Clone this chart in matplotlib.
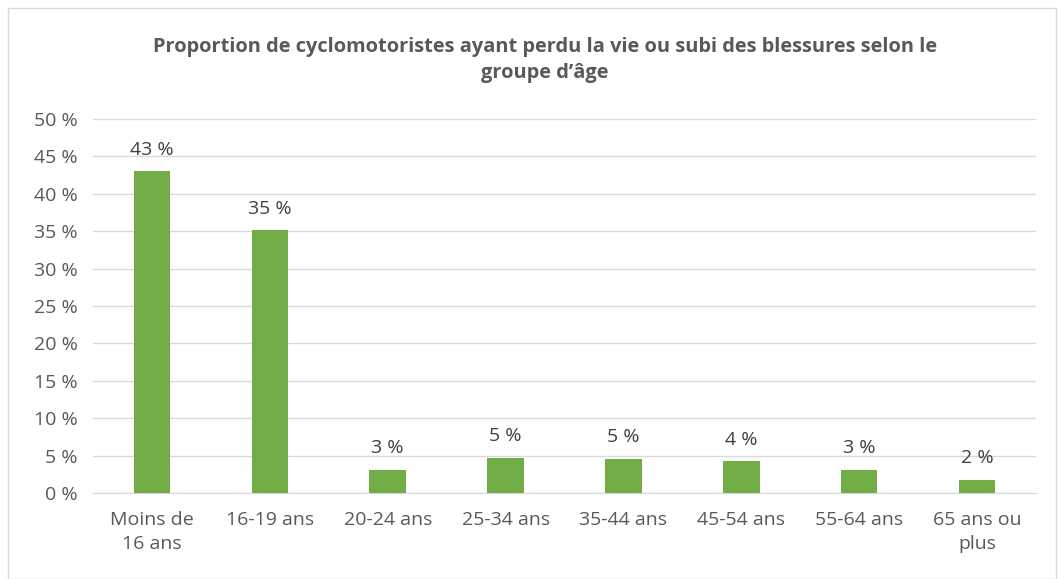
import matplotlib.pyplot as plt
from matplotlib.patches import Rectangle

categories = ["Moins de\n16 ans", "16-19 ans", "20-24 ans", "25-34 ans",
              "35-44 ans", "45-54 ans", "55-64 ans", "65 ans ou\nplus"]
values = [43.0, 35.1, 3.1, 4.7, 4.55, 4.25, 3.1, 1.8]
labels = ["43 %", "35 %", "3 %", "5 %", "5 %", "4 %", "3 %", "2 %"]
yticks = [0, 5, 10, 15, 20, 25, 30, 35, 40, 45, 50]

plt.rcParams['font.family'] = ['Open Sans', 'DejaVu Sans']
grey = '#595959'

fig = plt.figure(figsize=(10.63, 5.79), dpi=100)
ax = fig.add_axes([93 / 1063, 1 - 493 / 579, 943 / 1063, 374 / 579])

x = range(len(categories))
ax.bar(x, values, width=0.31, color='#70ad47', zorder=3)
for i, v in enumerate(values):
    ax.annotate(labels[i], (i, v), xytext=(0, 9), textcoords='offset points',
                ha='center', va='bottom', fontsize=14, color='#404040')

ax.set_xlim(-0.5, len(categories) - 0.5)
ax.set_ylim(0, 50)
ax.set_yticks(yticks)
ax.set_yticklabels([f"{t} %" for t in yticks])
ax.set_xticks(list(x))
ax.set_xticklabels(categories, linespacing=1.45)
ax.grid(axis='y', color='#d9d9d9', linewidth=1, zorder=0)
for s in ['top', 'right', 'left']:
    ax.spines[s].set_visible(False)
ax.spines['bottom'].set_color('#d9d9d9')
ax.tick_params(axis='both', length=0, labelsize=14, colors=grey)
ax.tick_params(axis='x', pad=13)
ax.tick_params(axis='y', pad=11)

fig.text(545 / 1063, 1 - 60 / 579,
         "Proportion de cyclomotoristes ayant perdu la vie ou subi des blessures selon le\ngroupe d\u2019\u00e2ge",
         ha='center', va='center', fontsize=14.4, fontweight='bold', color=grey,
         linespacing=1.45)

fig.patches.append(Rectangle((8 / 1063, 0.0), 1048 / 1063, 1 - 8 / 579,
                             transform=fig.transFigure, fill=False,
                             edgecolor='#d9d9d9', linewidth=1))

fig.savefig('out.png', dpi=100, facecolor='white')
